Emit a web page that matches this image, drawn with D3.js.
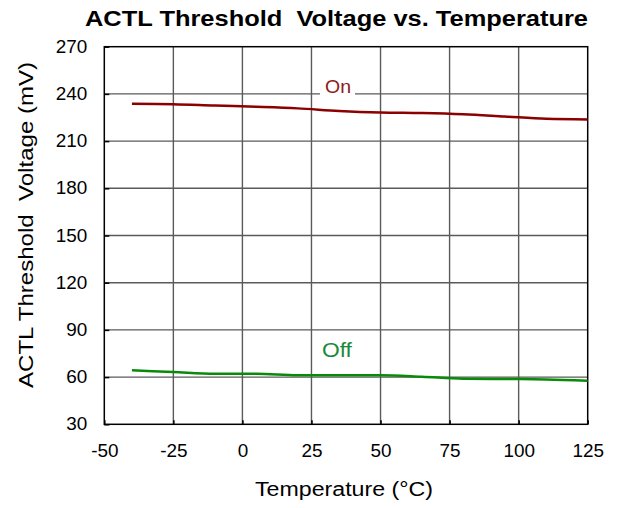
<!DOCTYPE html>
<html><head><meta charset="utf-8">
<script src="https://cdn.jsdelivr.net/npm/d3@7"></script>
<style>body{margin:0;background:#fff}svg{display:block}text{font-family:"Liberation Sans",Arial,sans-serif;white-space:pre}</style>
</head><body>
<script>
const temps = [-40,-25,-10,5,20,35,50,65,80,95,110,125];
const onValues = [233.8,233.5,232.6,231.8,230.8,229.2,228.2,227.8,227.0,225.6,224.2,223.8];
const offValues = [64.3,63.2,62.1,62.1,61.1,61.1,61.1,60.2,59.0,58.8,58.5,57.7];
const xTicks = [-50,-25,0,25,50,75,100,125];
const yTicks = [30,60,90,120,150,180,210,240,270];

const W=618,H=508;
const svg=d3.select("body").append("svg").attr("width",W).attr("height",H);
const L=104.3,R=587.7,T=46.7,B=424.3;
const x=d3.scaleLinear().domain([-50,125]).range([L,R]);
const y=d3.scaleLinear().domain([30,270]).range([B,T]);

// grid
svg.append("g").selectAll("line").data(xTicks.slice(1,-1)).join("line")
 .attr("x1",d=>x(d)).attr("x2",d=>x(d)).attr("y1",T).attr("y2",B)
 .attr("stroke","#5a5a5a").attr("stroke-width",1.4);
svg.append("g").selectAll("line").data(yTicks.slice(1,-1)).join("line")
 .attr("x1",L).attr("x2",R).attr("y1",d=>y(d)).attr("y2",d=>y(d))
 .attr("stroke","#5a5a5a").attr("stroke-width",1.4);

// axes
const xAxis=svg.append("g").attr("transform",`translate(0,${B})`)
 .call(d3.axisBottom(x).tickValues(xTicks).tickFormat(d=>String(d)).tickSize(-4).tickPadding(20.5));
const yAxis=svg.append("g").attr("transform",`translate(${L},0)`)
 .call(d3.axisLeft(y).tickValues(yTicks).tickFormat(d=>String(d)).tickSize(-5).tickPadding(17));
[xAxis,yAxis].forEach(a=>{a.select(".domain").remove();
 a.selectAll("line").attr("stroke","#000").attr("stroke-width",1.5);
 a.selectAll("text").attr("font-size",17.5).attr("fill","#000").attr("font-family","Liberation Sans, Arial, sans-serif")
  .attr("textLength",function(){return this.getComputedTextLength()*1.08;}).attr("lengthAdjust","spacingAndGlyphs");});

// frame
svg.append("rect").attr("x",L).attr("y",T).attr("width",R-L).attr("height",B-T)
 .attr("fill","none").attr("stroke","#000").attr("stroke-width",1.5);

// series labels
function label(txt,xv,yv,color,fs,len,mask){
 const g=svg.append("g");
 const t=g.append("text").attr("x",x(xv)).attr("y",y(yv)).attr("font-size",fs)
  .attr("fill",color).attr("textLength",len).attr("lengthAdjust","spacingAndGlyphs").text(txt);
 if(mask){
  const bb=t.node().getBBox();
  g.insert("rect","text").attr("x",bb.x-5).attr("y",bb.y).attr("width",bb.width+9).attr("height",bb.height).attr("fill","#fff");
 }
}
label("On",29.9,240.6,"#8b1a1a",18.5,26,true);
label("Off",28.8,73,"#1a8a3a",20.5,30,false);

const line=d3.line().x((d,i)=>x(temps[i])).y(d=>y(d)).curve(d3.curveMonotoneX);
svg.append("path").datum(onValues).attr("d",line).attr("fill","none").attr("stroke","#8b0000").attr("stroke-width",2.5);
svg.append("path").datum(offValues).attr("d",line).attr("fill","none").attr("stroke","#0a8a0a").attr("stroke-width",2.5);

svg.append("text").attr("x",336.5).attr("y",26).attr("text-anchor","middle")
 .attr("font-size",22).attr("font-weight","bold").attr("textLength",503).attr("lengthAdjust","spacingAndGlyphs")
 .text("ACTL Threshold  Voltage vs. Temperature");
svg.append("text").attr("x",344).attr("y",496).attr("text-anchor","middle")
 .attr("font-size",19.5).attr("textLength",178).attr("lengthAdjust","spacingAndGlyphs").text("Temperature (°C)");
svg.append("text").attr("transform","translate(33,225) rotate(-90)").attr("text-anchor","middle")
 .attr("font-size",21).attr("textLength",326).attr("lengthAdjust","spacingAndGlyphs").text("ACTL Threshold  Voltage (mV)");
</script>
</body></html>
